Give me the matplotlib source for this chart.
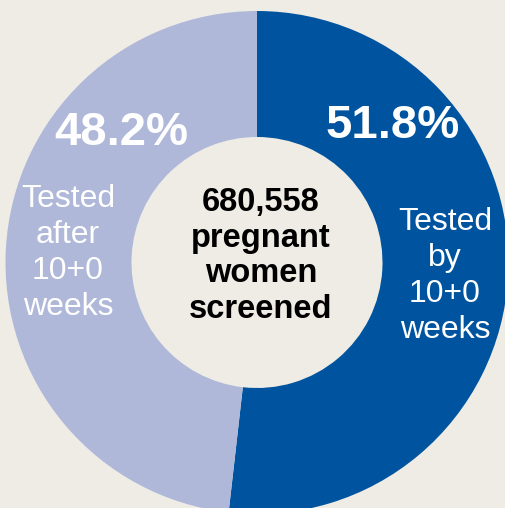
import matplotlib
matplotlib.use('Agg')
import matplotlib.pyplot as plt

plt.rcParams['font.family'] = ['Liberation Sans', 'DejaVu Sans']

# data
labels = ['Tested\nby\n10+0\nweeks', 'Tested\nafter\n10+0\nweeks']
shares = [51.8, 48.2]
pct_labels = ['51.8%', '48.2%']
centre_text = '680,558\npregnant\nwomen\nscreened'
colors = ['#00549F', '#AFB8D9']
bg = '#EFECE5'

W, H = 505, 508
fig = plt.figure(figsize=(W / 100, H / 100), dpi=100, facecolor=bg)
ax = fig.add_axes([0, 0, 1, 1])
ax.set_facecolor(bg)

cx, cy = 257, H - 262.5
r_out, r_in = 251.5, 125.5

ax.pie(shares, colors=colors, startangle=90, counterclock=False,
       center=(cx, cy), radius=r_out, frame=True,
       wedgeprops=dict(width=r_out - r_in, linewidth=0))

ax.set_xlim(0, W)
ax.set_ylim(0, H)
ax.set_aspect('equal')
ax.axis('off')

# big percentages
ax.text(393, H - 126, pct_labels[0], color='white', fontsize=34,
        fontweight='bold', ha='center', va='center')
ax.text(121, H - 133, pct_labels[1], color='white', fontsize=34,
        fontweight='bold', ha='center', va='center')

# side labels
ax.text(445, H - 276, labels[0], color='white', fontsize=23,
        ha='center', va='center', linespacing=1.25)
ax.text(68, H - 253, labels[1], color='white', fontsize=23,
        ha='center', va='center', linespacing=1.25)

# centre text
ax.text(261, H - 256, centre_text, color='black', fontsize=23.5,
        fontweight='bold', ha='center', va='center', linespacing=1.19)

plt.savefig('out.png', dpi=100, facecolor=bg)
